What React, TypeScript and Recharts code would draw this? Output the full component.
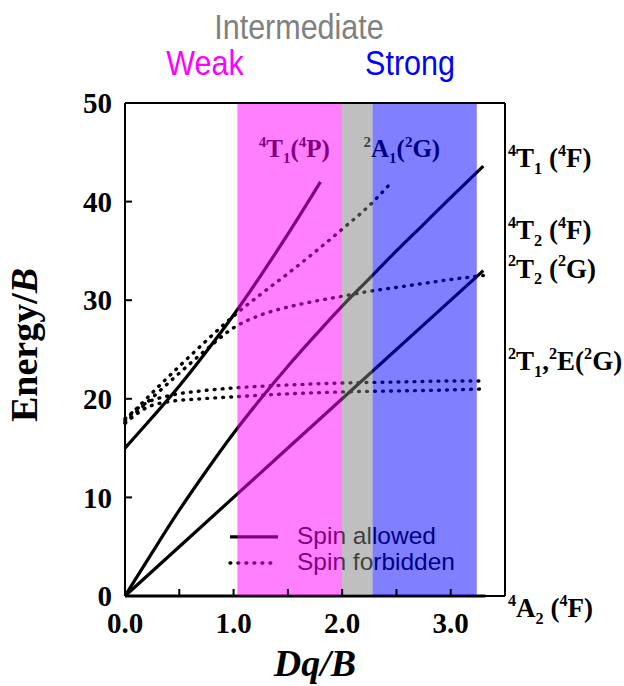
import React from 'react';
import { ComposedChart, Line, Scatter, XAxis, YAxis, ReferenceArea } from 'recharts';

// Tanabe-Sugano style d3 diagram, Energy/B vs Dq/B
const xTicks = [0, 0.5, 1, 1.5, 2, 2.5, 3];
const yTicks = [0, 10, 20, 30, 40, 50];

// spin allowed (quartets)
const a2F = [[0, 0], [3.32, 0]];
const t2F = [[0, 0], [1, 10], [2, 20], [3.3, 33]];
const t1F = [[0, 0], [0.25, 4.4], [0.5, 8.7], [0.75, 12.7], [1.0, 16.5], [1.25, 20.0], [1.5, 23.3], [1.75, 26.4], [2.0, 29.4], [2.25, 32.2], [2.5, 35.0], [2.75, 37.7], [3.0, 40.4], [3.3, 43.6]];
const t1P = [[0, 15], [0.25, 18.1], [0.5, 21.3], [0.75, 24.8], [1.0, 28.5], [1.25, 32.5], [1.5, 36.7], [1.8, 42.0]];

// spin forbidden (doublets)
const a1G = [[0, 17.8], [0.25, 20.6], [0.5, 23.3], [0.75, 25.9], [1.0, 28.4], [1.25, 30.6], [1.5, 32.7], [1.75, 34.9], [2.0, 37.2], [2.25, 39.6], [2.45, 41.9]];
const t2G = [[0, 17.6], [0.25, 20.1], [0.5, 22.6], [0.75, 25.0], [1.0, 27.2], [1.25, 28.5], [1.5, 29.3], [1.75, 29.9], [2.0, 30.4], [2.25, 30.9], [2.5, 31.3], [2.75, 31.7], [3.0, 32.1], [3.3, 32.5]];
const t1G = [[0, 18.0], [0.1, 18.9], [0.2, 19.6], [0.4, 20.3], [0.7, 20.8], [1.0, 21.1], [1.5, 21.4], [2.0, 21.6], [2.5, 21.7], [3.0, 21.8], [3.3, 21.8]];
const eG = [[0, 17.5], [0.1, 18.4], [0.2, 19.1], [0.4, 19.7], [0.7, 20.0], [1.0, 20.2], [1.5, 20.5], [2.0, 20.7], [2.5, 20.8], [3.0, 20.9], [3.3, 21.0]];

// field regions on Dq/B
const weakBand = [1.035, 2.0];
const interBand = [2.0, 2.28];
const strongBand = [2.28, 3.24];

// term labels (^ = superscript, _ = subscript)
const innerLabels = [
    { x: 1.56, y: 44.5, label: '^4T_1(^4P)' },
    { x: 2.55, y: 44.5, label: '^2A_1(^2G)' },
];
const rightLabels = [
    { x: 3.5, y: 43.5, label: '^4T_1 (^4F)' },
    { x: 3.5, y: 36.2, label: '^4T_2 (^4F)' },
    { x: 3.5, y: 32.3, label: '^2T_2 (^2G)' },
    { x: 3.5, y: 22.9, label: '^2T_1,^2E(^2G)' },
    { x: 3.5, y: 0, label: '^4A_2 (^4F)', below: true },
];
const legendItems = [
    { x: 0.967, y: 6.0, label: 'Spin allowed', dotted: false },
    { x: 0.967, y: 3.35, label: 'Spin forbidden', dotted: true },
];

const toPts = (arr: number[][]) => arr.map(([x, y]) => ({ x, y }));

const SERIF = '"Liberation Serif", "Times New Roman", serif';
const SANS = '"Liberation Sans", Arial, sans-serif';
const DOTS = '0.8 7.2';

function TermText({ x, y, text, size, anchor = 'start', fill = '#000' }: any) {
    const parts: { t: string; k: string }[] = [];
    for (let i = 0; i < text.length; i++) {
        const c = text[i];
        if ((c === '^' || c === '_') && i + 1 < text.length) {
            parts.push({ t: text[i + 1], k: c === '^' ? 'sup' : 'sub' });
            i++;
        } else {
            const last = parts[parts.length - 1];
            if (last && last.k === 'n') last.t += c;
            else parts.push({ t: c, k: 'n' });
        }
    }
    const small = size * 0.6;
    let shift = 0;
    return (
        <text x={x} y={y} textAnchor={anchor} fontFamily={SERIF} fontWeight="bold" fontSize={size} fill={fill}>
            {parts.map((p, i) => {
                const target = p.k === 'sup' ? -size * 0.42 : p.k === 'sub' ? size * 0.25 : 0;
                const dy = target - shift;
                shift = target;
                return (
                    <tspan key={i} dy={dy} fontSize={p.k === 'n' ? size : small}>
                        {p.t}
                    </tspan>
                );
            })}
        </text>
    );
}

const InnerShape = (props: any) => (
    <TermText x={props.cx} y={props.cy} text={props.payload.label} size={25} anchor="middle" />
);

const RightShape = (props: any) => (
    <TermText x={props.cx + 3} y={props.cy + (props.payload.below ? 21 : 0)} text={props.payload.label} size={27} />
);

const LegendShape = (props: any) => {
    const { cx, cy, payload } = props;
    return (
        <g>
            <line
                x1={cx}
                x2={cx + (payload.dotted ? 44 : 48)}
                y1={cy}
                y2={cy}
                stroke="#000"
                strokeWidth={payload.dotted ? 3.4 : 3.2}
                strokeLinecap={payload.dotted ? 'round' : 'butt'}
                strokeDasharray={payload.dotted ? DOTS : undefined}
            />
            <text x={cx + 67} y={cy + 7.5} fontFamily={SANS} fontSize={24.5} fill="#000">
                {payload.label}
            </text>
        </g>
    );
};

const axisStroke = { stroke: '#000', strokeWidth: 2 };
const tickFont = { fill: '#000', fontSize: 29, fontWeight: 'bold', fontFamily: SERIF };

export default function App() {
    const solid = { stroke: '#000', strokeWidth: 3.2, dot: false, isAnimationActive: false, type: 'monotone' as const, zIndex: 400 };
    const dotted = { ...solid, strokeWidth: 3.4, strokeLinecap: 'round' as const, strokeDasharray: DOTS };

    return (
        <div style={{ position: 'absolute', left: 0, top: 0, width: 624, height: 686, background: '#fff' }}>
            <ComposedChart width={624} height={686} margin={{ top: 102, right: 118, bottom: 30, left: 65 }}>
                <XAxis
                    dataKey="x"
                    type="number"
                    domain={[0, 3.5]}
                    ticks={xTicks}
                    tickFormatter={(v: number) => (Number.isInteger(v) ? v.toFixed(1) : '')}
                    tickSize={-7}
                    tickMargin={23}
                    height={60}
                    axisLine={axisStroke}
                    tickLine={axisStroke}
                    tick={tickFont}
                />
                <XAxis
                    xAxisId="top"
                    orientation="top"
                    dataKey="x"
                    type="number"
                    domain={[0, 3.5]}
                    ticks={xTicks}
                    tickSize={-7}
                    height={1}
                    axisLine={axisStroke}
                    tickLine={axisStroke}
                    tick={false}
                />
                <YAxis
                    type="number"
                    domain={[0, 50]}
                    ticks={yTicks}
                    tickSize={-7}
                    tickMargin={20}
                    width={60}
                    axisLine={axisStroke}
                    tickLine={axisStroke}
                    tick={tickFont}
                />
                <YAxis
                    yAxisId="right"
                    orientation="right"
                    type="number"
                    domain={[0, 50]}
                    ticks={yTicks}
                    tickSize={-7}
                    width={1}
                    axisLine={axisStroke}
                    tickLine={axisStroke}
                    tick={false}
                />

                <Line data={toPts(a2F)} dataKey="y" {...solid} />
                <Line data={toPts(t2F)} dataKey="y" {...solid} />
                <Line data={toPts(t1F)} dataKey="y" {...solid} />
                <Line data={toPts(t1P)} dataKey="y" {...solid} />
                <Line data={toPts(a1G)} dataKey="y" {...dotted} />
                <Line data={toPts(t2G)} dataKey="y" {...dotted} />
                <Line data={toPts(t1G)} dataKey="y" {...dotted} />
                <Line data={toPts(eG)} dataKey="y" {...dotted} />

                <Scatter data={innerLabels} dataKey="y" shape={InnerShape} isAnimationActive={false} zIndex={410} />
                <Scatter data={legendItems} dataKey="y" shape={LegendShape} isAnimationActive={false} zIndex={410} />

                <ReferenceArea x1={weakBand[0]} x2={weakBand[1]} y1={0} y2={50} fill="#ff00ff" fillOpacity={0.5} stroke="none" zIndex={450} />
                <ReferenceArea x1={interBand[0]} x2={interBand[1]} y1={0} y2={50} fill="#808080" fillOpacity={0.5} stroke="none" zIndex={450} />
                <ReferenceArea x1={strongBand[0]} x2={strongBand[1]} y1={0} y2={50} fill="#0000ff" fillOpacity={0.5} stroke="none" zIndex={450} />

                <Scatter data={rightLabels} dataKey="y" shape={RightShape} isAnimationActive={false} zIndex={600} />
            </ComposedChart>

            <svg width={624} height={686} style={{ position: 'absolute', left: 0, top: 0, pointerEvents: 'none' }}>
                <text transform="translate(299,39) scale(1,1.16)" textAnchor="middle" fontFamily={SANS} fontSize={30.5} fill="#808080">
                    Intermediate
                </text>
                <text transform="translate(205,75) scale(1,1.16)" textAnchor="middle" fontFamily={SANS} fontSize={30.5} fill="#ff00ff">
                    Weak
                </text>
                <text transform="translate(410,75) scale(1,1.16)" textAnchor="middle" fontFamily={SANS} fontSize={30.5} fill="#0000ff">
                    Strong
                </text>
                <text transform="translate(37,345) rotate(-90)" textAnchor="middle" fontFamily={SERIF} fontWeight="bold" fontSize={38} fill="#000">
                    Energy/<tspan fontStyle="italic">B</tspan>
                </text>
                <text x={315} y={676} textAnchor="middle" fontFamily={SERIF} fontWeight="bold" fontStyle="italic" fontSize={38} fill="#000">
                    Dq/B
                </text>
            </svg>
        </div>
    );
}
